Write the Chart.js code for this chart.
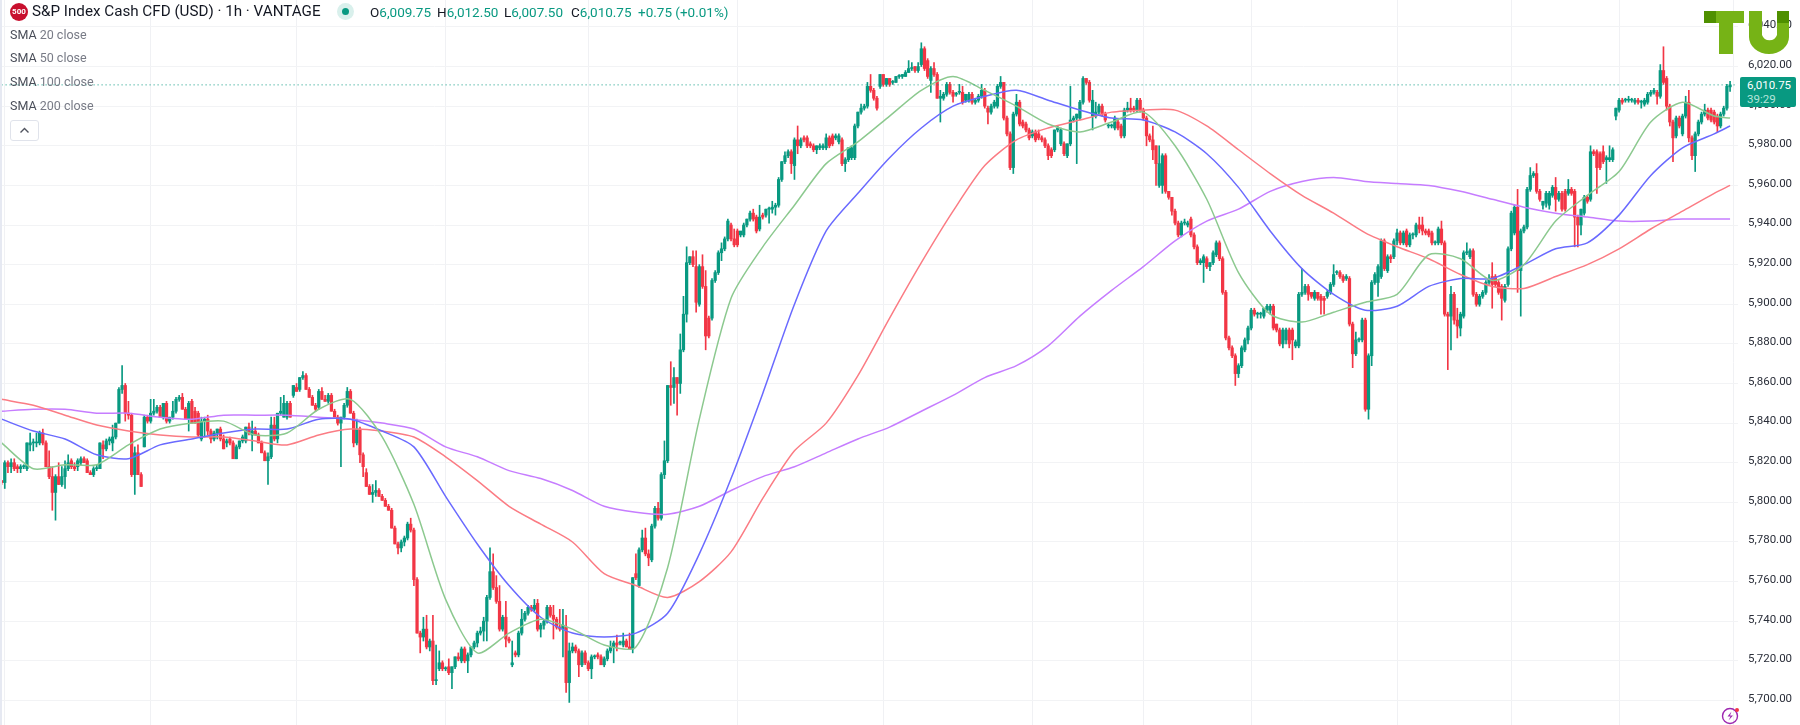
<!DOCTYPE html>
<html>
<head>
<meta charset="utf-8">
<title>S&amp;P Index Cash CFD</title>
<script src="https://cdn.jsdelivr.net/npm/chart.js"></script>
<style>
html,body{margin:0;padding:0;background:#fff;overflow:hidden}
#wrap{position:relative;width:1800px;height:725px;font-family:Roboto,sans-serif}
#c{position:absolute;left:0;top:0}
.t{position:absolute;white-space:nowrap}
#edge{position:absolute;left:0;top:0;width:2px;height:725px;background:#e6e9f2}
#head{left:32px;top:2px;font-size:15.2px;color:#131722;line-height:18px}
#icon{position:absolute;left:10px;top:3px;width:18px;height:18px;border-radius:50%;background:#c8102e;color:#fff;font-size:8px;line-height:18px;text-align:center;font-weight:700}
#halo{position:absolute;left:337px;top:3px;width:17px;height:17px;border-radius:50%;background:#d9f0ec}
#dot{position:absolute;left:342px;top:8px;width:7px;height:7px;border-radius:50%;background:#089981}
.k{font-size:13.5px;top:3px;color:#131722;line-height:18px}
.k b{font-weight:400;color:#089981}
.sma{left:10px;font-size:12.5px;color:#787b86;line-height:16px}
.sma i{font-style:normal;color:#4a4e59}
#fold{position:absolute;left:10px;top:120px;width:27px;height:19px;border:1px solid #e0e3eb;border-radius:3px;background:#fff}
#tag{position:absolute;left:1740px;top:77px;width:56px;height:30px;background:#089981;border-radius:2px;color:#fff;font-size:11.5px}
#tag span{position:absolute;left:7px;white-space:nowrap}
</style>
</head>
<body>
<div id="wrap">
<canvas id="c" width="1800" height="725"></canvas>
<div id="edge"></div>
<div id="icon">500</div>
<div class="t" id="head">S&amp;P Index Cash CFD (USD) · 1h · VANTAGE</div>
<div id="halo"></div><div id="dot"></div>
<div class="t k" style="left:370px">O<b>6,009.75</b></div>
<div class="t k" style="left:437px">H<b>6,012.50</b></div>
<div class="t k" style="left:504px">L<b>6,007.50</b></div>
<div class="t k" style="left:571px">C<b>6,010.75</b></div>
<div class="t k" style="left:638px"><b>+0.75 (+0.01%)</b></div>
<div class="t sma" style="top:27px"><i>SMA</i> 20 close</div>
<div class="t sma" style="top:50px"><i>SMA</i> 50 close</div>
<div class="t sma" style="top:74px"><i>SMA</i> 100 close</div>
<div class="t sma" style="top:98px"><i>SMA</i> 200 close</div>
<div id="fold"><svg width="27" height="19"><path d="M9.5 11.5 L13.5 7.5 L17.5 11.5" fill="none" stroke="#50535e" stroke-width="1.4"/></svg></div>
<div id="tag"><span style="top:1px">6,010.75</span><span style="top:15px;color:#b5e4da">39:29</span></div>
<svg style="position:absolute;left:1700px;top:6px" width="95" height="54">
<rect x="4" y="5" width="12" height="12" fill="#4f9000"/>
<rect x="16" y="5" width="28" height="12" fill="#76b316"/>
<rect x="19" y="5" width="14" height="43" fill="#76b316"/>
<path d="M49 5 h13 v24 a8 8 0 0 0 15 0 v-24 h12 v26 a20 17 0 0 1 -40 0 z" fill="#76b316"/>
<rect x="77" y="5" width="12" height="12" fill="#4f9000"/>
</svg>
<svg style="position:absolute;left:1720px;top:706px" width="19" height="19">
<circle cx="10" cy="10" r="7.5" fill="none" stroke="#9c27b0" stroke-width="1.4"/>
<path d="M11.5 5.5 L7.5 10.5 H10.5 L8.5 14.5 L13 9.5 H10 Z" fill="#9c27b0"/>
<circle cx="17" cy="4" r="2" fill="#f23645"/>
</svg>
</div>
<script>
var opens=[
5811,5810,5820,5818,5820,5818,5817,5818,5817,5829,
5830,5830,5830,5835,5830,5818,5813,5805,5813,5809,
5813,5817,5821,5818,5818,5820,5822,5821,5815,5814,
5817,5817,5829,5827,5831,5830,5833,5840,5857,5859,
5845,5844,5814,5825,5814,5828,5843,5841,5845,5846,
5848,5843,5850,5841,5843,5846,5852,5853,5847,5842,
5851,5846,5845,5832,5841,5842,5836,5832,5835,5837,
5832,5830,5832,5830,5822,5828,5831,5831,5838,5834,
5836,5834,5830,5825,5821,5823,5839,5832,5845,5843,
5843,5850,5854,5858,5857,5863,5864,5857,5853,5849,
5848,5856,5852,5851,5854,5846,5843,5840,5843,5849,
5856,5845,5830,5837,5824,5815,5808,5804,5805,5806,
5803,5801,5798,5796,5787,5779,5777,5780,5782,5789,
5786,5761,5734,5732,5736,5727,5730,5710,5716,5719,
5716,5717,5714,5717,5722,5720,5726,5720,5723,5727,
5729,5734,5735,5740,5752,5765,5757,5750,5736,5742,
5731,5718,5724,5723,5734,5741,5744,5747,5746,5749,
5736,5738,5740,5747,5743,5741,5737,5736,5737,5709,
5725,5727,5725,5718,5724,5719,5716,5722,5723,5722,
5718,5721,5725,5727,5729,5729,5728,5730,5727,5726,
5764,5758,5776,5782,5774,5771,5788,5797,5792,5814,
5821,5859,5858,5863,5860,5877,5895,5921,5924,5919,
5900,5919,5909,5893,5893,5912,5916,5926,5928,5933,
5940,5933,5937,5935,5935,5940,5943,5946,5944,5938,
5945,5945,5948,5948,5949,5950,5963,5972,5975,5977,
5970,5983,5980,5984,5984,5981,5980,5978,5979,5979,
5979,5984,5985,5984,5982,5983,5971,5973,5974,5974,
5990,5997,5999,6000,6010,6008,6004,6010,6016,6011,
6014,6012,6012,6015,6015,6015,6017,6019,6020,6018,
6021,6029,6023,6013,6019,6016,6004,6004,6006,6011,
6007,6006,6007,6007,6003,6003,6006,6002,6003,6005,
6008,5999,5997,6000,6000,6010,6012,5994,5986,5969,
5996,6002,5992,5991,5988,5985,5987,5986,5984,5983,
5980,5978,5978,5988,5981,5981,5975,5981,5993,5994,
5994,6002,6014,6012,5995,5995,5997,6000,5996,5990,
5990,5989,5992,5990,5985,5998,5999,5999,5998,6003,
5998,5994,5985,5983,5980,5960,5960,5975,5957,5954,
5947,5941,5935,5941,5940,5943,5935,5929,5921,5921,
5923,5919,5921,5925,5931,5923,5906,5883,5878,5874,
5865,5869,5877,5882,5888,5897,5895,5895,5894,5897,
5897,5899,5890,5887,5880,5882,5887,5887,5879,5879,
5905,5906,5909,5906,5903,5906,5904,5903,5904,5906,
5910,5916,5916,5914,5913,5913,5890,5875,5882,5882,
5892,5847,5874,5911,5911,5914,5932,5917,5924,5924,
5932,5936,5931,5937,5930,5935,5935,5940,5940,5937,
5937,5936,5931,5931,5938,5931,5895,5894,5905,5892,
5888,5894,5926,5924,5927,5905,5900,5904,5906,5911,
5914,5914,5911,5909,5902,5910,5928,5936,5949,5917,
5937,5939,5958,5965,5966,5957,5950,5951,5950,5955,
5959,5953,5956,5957,5956,5958,5957,5944,5940,5946,
5954,5953,5977,5977,5976,5977,5973,5973,5973,5995,
5998,6003,6003,6003,6003,6002,6003,6002,6001,6002,
6006,6007,6007,6005,6018,6014,6000,5992,5985,5994,
5986,5995,6002,5984,5975,5986,5992,5996,5998,5998,
5997,5995,5990,5996,5999,6009.75];
var highs=[
5811,5821,5821,5822,5822,5819,5819,5819,5830,5835,
5832,5835,5836,5837,5831,5826,5818,5814,5820,5818,
5821,5824,5822,5820,5822,5823,5823,5822,5816,5818,
5819,5830,5831,5832,5833,5839,5840,5858,5869,5860,
5851,5845,5828,5829,5815,5844,5844,5852,5852,5849,
5849,5850,5851,5843,5851,5853,5854,5855,5848,5851,
5852,5848,5846,5843,5843,5844,5837,5836,5837,5838,
5834,5832,5833,5831,5829,5831,5834,5838,5840,5841,
5838,5835,5831,5826,5825,5843,5843,5845,5853,5854,
5851,5851,5859,5860,5863,5866,5865,5858,5854,5850,
5857,5858,5854,5855,5855,5847,5844,5843,5850,5858,
5857,5846,5842,5838,5825,5817,5809,5809,5811,5807,
5804,5802,5799,5797,5788,5780,5781,5783,5790,5792,
5787,5762,5735,5742,5743,5731,5743,5728,5725,5720,
5717,5721,5717,5722,5724,5727,5727,5724,5727,5730,
5735,5737,5742,5753,5777,5774,5763,5758,5743,5750,
5732,5730,5725,5735,5746,5745,5748,5748,5751,5751,
5739,5741,5748,5748,5748,5742,5746,5746,5743,5729,
5729,5728,5726,5725,5725,5720,5723,5723,5724,5723,
5722,5726,5730,5730,5733,5730,5734,5731,5734,5762,
5774,5777,5786,5787,5776,5789,5798,5800,5815,5831,
5859,5871,5868,5863,5885,5904,5929,5924,5927,5927,
5920,5925,5917,5894,5913,5917,5927,5931,5934,5943,
5941,5938,5938,5936,5941,5943,5947,5948,5945,5950,
5946,5948,5949,5952,5951,5964,5972,5977,5978,5978,
5984,5990,5984,5985,5985,5982,5981,5980,5981,5981,
5986,5985,5986,5986,5986,5984,5974,5979,5980,5991,
5997,6001,6001,6012,6016,6009,6005,6016,6016,6014,
6014,6013,6015,6016,6016,6018,6023,6022,6020,6022,
6032,6030,6024,6020,6022,6017,6008,6007,6012,6012,
6008,6007,6011,6010,6006,6007,6007,6004,6006,6011,
6009,6000,6001,6003,6011,6015,6012,5995,5987,5997,
6006,6003,5993,5992,5989,5988,5988,5988,5985,5984,
5981,5979,5988,5990,5989,5982,5981,6010,5995,5996,
6003,6015,6014,6013,6008,6002,6001,6001,5997,5991,
5991,5995,5993,5991,5999,6002,6004,6000,6004,6004,
5999,5995,5986,5990,5980,5980,5976,5976,5955,5948,
5948,5942,5942,5943,5942,5944,5936,5930,5923,5925,
5924,5921,5927,5932,5932,5924,5907,5884,5879,5875,
5870,5879,5883,5889,5898,5898,5896,5896,5898,5900,
5900,5900,5890,5888,5888,5888,5888,5888,5882,5906,
5918,5910,5910,5906,5907,5906,5905,5904,5907,5911,
5920,5917,5917,5915,5915,5914,5891,5886,5883,5893,
5893,5875,5912,5916,5920,5933,5933,5925,5925,5933,
5938,5937,5937,5938,5936,5936,5941,5944,5944,5938,
5938,5937,5932,5939,5942,5932,5896,5909,5906,5898,
5896,5927,5931,5928,5928,5906,5905,5907,5912,5915,
5921,5915,5912,5910,5910,5929,5947,5950,5958,5938,
5940,5959,5969,5967,5971,5958,5952,5957,5957,5960,
5964,5957,5957,5958,5963,5959,5958,5945,5948,5955,
5955,5980,5978,5978,5977,5980,5975,5980,5979,5999,
6004,6004,6004,6005,6004,6004,6004,6003,6004,6007,
6008,6009,6008,6021,6030,6015,6001,5993,5995,5995,
5996,6005,6008,5985,5987,5993,5997,6001,5999,5999,
5998,5996,5997,6000,6011,6012.5];
var lows=[
5809,5807,5815,5815,5816,5815,5815,5817,5816,5826,
5826,5828,5829,5829,5818,5812,5796,5791,5809,5808,
5807,5816,5817,5816,5816,5819,5820,5815,5814,5813,
5816,5817,5822,5826,5829,5826,5832,5840,5855,5841,
5842,5813,5804,5814,5808,5828,5840,5840,5844,5845,
5843,5842,5840,5840,5842,5845,5851,5847,5842,5836,
5840,5840,5833,5831,5833,5834,5830,5831,5832,5831,
5827,5828,5829,5822,5822,5827,5830,5830,5834,5826,
5834,5830,5825,5821,5809,5822,5831,5830,5844,5843,
5842,5843,5853,5856,5856,5862,5857,5853,5849,5846,
5847,5852,5851,5850,5846,5843,5839,5818,5842,5848,
5845,5828,5829,5820,5813,5808,5804,5800,5803,5803,
5801,5798,5796,5787,5779,5774,5775,5778,5781,5785,
5758,5734,5724,5730,5726,5725,5708,5708,5715,5715,
5715,5713,5706,5716,5720,5719,5719,5714,5722,5726,
5727,5733,5730,5730,5751,5756,5749,5735,5735,5727,
5729,5717,5722,5722,5733,5740,5743,5745,5745,5735,
5732,5736,5739,5742,5731,5736,5735,5722,5704,5699,
5724,5724,5712,5717,5718,5715,5711,5721,5721,5718,
5717,5720,5724,5719,5725,5728,5727,5727,5726,5724,
5761,5757,5775,5773,5768,5770,5787,5791,5791,5812,
5820,5849,5850,5844,5855,5876,5891,5920,5919,5896,
5899,5908,5877,5883,5892,5911,5915,5922,5927,5932,
5932,5929,5929,5934,5934,5939,5942,5942,5936,5937,
5943,5944,5941,5946,5945,5949,5962,5971,5974,5966,
5963,5976,5979,5982,5979,5979,5977,5976,5978,5978,
5978,5979,5980,5983,5981,5970,5967,5972,5973,5973,
5989,5996,5998,5999,6007,6003,5998,6009,6010,6010,
6010,6011,6012,6014,6014,6015,6017,6018,6017,6017,
6020,6018,6014,6007,6015,6004,5992,6003,6005,6006,
6002,6005,6006,6001,6002,6002,6001,6001,6002,6004,
5999,5991,5996,5999,5999,6009,5993,5985,5968,5966,
5995,5990,5989,5987,5983,5984,5982,5983,5982,5979,
5973,5974,5977,5987,5980,5975,5974,5980,5992,5971,
5993,6001,6011,6002,5988,5994,5996,5995,5992,5989,
5989,5988,5988,5984,5984,5997,5997,5997,5997,5997,
5993,5980,5982,5973,5960,5959,5956,5956,5953,5945,
5940,5934,5934,5940,5939,5934,5928,5920,5920,5911,
5918,5917,5920,5924,5922,5905,5882,5877,5873,5859,
5863,5868,5876,5880,5887,5894,5893,5893,5893,5896,
5895,5887,5886,5879,5878,5880,5878,5872,5878,5878,
5904,5905,5902,5903,5902,5902,5895,5895,5903,5905,
5909,5915,5913,5911,5912,5889,5868,5874,5881,5881,
5846,5842,5869,5910,5904,5913,5917,5916,5921,5923,
5930,5930,5930,5929,5929,5933,5934,5936,5935,5935,
5934,5930,5930,5930,5930,5894,5867,5877,5890,5883,
5884,5893,5925,5923,5904,5899,5899,5903,5905,5910,
5898,5909,5905,5892,5901,5909,5927,5935,5906,5894,
5936,5938,5957,5964,5956,5952,5948,5949,5948,5954,
5947,5952,5947,5947,5955,5955,5929,5929,5935,5945,
5951,5952,5975,5956,5968,5971,5961,5972,5972,5993,
5997,6001,6002,6002,6002,6001,6001,5999,6000,6001,
6005,6006,6001,6004,6011,5998,5990,5972,5984,5989,
5985,5994,5982,5973,5967,5985,5991,5995,5993,5992,
5991,5987,5989,5995,5998,6007.5];
var closes=[
5810,5820,5818,5820,5817,5817,5818,5818,5830,5830,
5830,5830,5835,5830,5818,5813,5805,5813,5809,5813,
5817,5820,5818,5817,5821,5822,5820,5815,5814,5817,
5817,5830,5827,5831,5832,5833,5840,5857,5859,5845,
5844,5814,5825,5814,5808,5843,5841,5845,5846,5848,
5843,5850,5841,5843,5846,5852,5853,5847,5842,5850,
5840,5840,5834,5841,5842,5836,5832,5835,5837,5832,
5827,5831,5830,5822,5828,5831,5833,5838,5835,5836,
5834,5830,5825,5821,5823,5839,5832,5845,5846,5850,
5850,5843,5859,5856,5863,5864,5857,5853,5849,5847,
5856,5852,5851,5854,5846,5843,5840,5843,5849,5856,
5845,5830,5837,5824,5818,5808,5804,5805,5806,5803,
5801,5798,5796,5787,5779,5777,5780,5782,5789,5786,
5761,5734,5732,5736,5727,5730,5710,5710,5719,5716,
5716,5714,5717,5722,5721,5726,5720,5723,5727,5729,
5734,5735,5740,5752,5765,5757,5750,5736,5742,5731,
5730,5719,5723,5734,5741,5744,5747,5746,5748,5736,
5738,5740,5747,5743,5741,5737,5736,5738,5709,5725,
5727,5725,5718,5724,5719,5716,5722,5722,5722,5718,
5721,5725,5727,5729,5728,5729,5730,5727,5726,5762,
5762,5776,5782,5774,5772,5788,5797,5792,5814,5821,
5859,5858,5863,5860,5877,5895,5921,5924,5920,5901,
5919,5909,5884,5884,5912,5916,5926,5928,5933,5942,
5933,5930,5930,5937,5940,5943,5946,5943,5937,5944,
5944,5948,5948,5949,5950,5963,5972,5975,5977,5971,
5983,5980,5983,5983,5980,5980,5978,5980,5980,5980,
5984,5980,5981,5985,5985,5971,5973,5979,5979,5990,
5997,5999,6000,6010,6008,6004,5999,6016,6011,6014,
6011,6012,6015,6015,6016,6017,6019,6019,6018,6020,
6029,6019,6015,6019,6016,6004,6005,6006,6011,6007,
6005,6006,6007,6002,6006,6006,6002,6003,6005,6008,
6000,5997,6000,6002,6010,6012,5994,5986,5969,5996,
6002,5991,5990,5988,5984,5987,5983,5984,5983,5980,
5975,5975,5988,5989,5988,5976,5981,5993,5994,5996,
6002,6014,6012,6003,6003,5997,6000,5996,5993,5990,
5990,5994,5989,5985,5998,5999,5998,5998,6003,5998,
5994,5985,5983,5978,5971,5971,5975,5957,5954,5947,
5941,5935,5941,5941,5941,5935,5929,5921,5922,5924,
5919,5921,5926,5931,5923,5906,5883,5878,5874,5865,
5869,5878,5882,5888,5897,5895,5895,5895,5898,5899,
5899,5888,5887,5880,5887,5887,5880,5882,5881,5905,
5906,5909,5905,5904,5906,5903,5902,5902,5906,5910,
5915,5916,5914,5912,5914,5890,5875,5882,5882,5892,
5847,5874,5911,5915,5919,5932,5918,5924,5923,5932,
5936,5931,5936,5930,5935,5935,5940,5938,5937,5936,
5935,5931,5931,5938,5931,5895,5894,5905,5892,5889,
5895,5926,5926,5927,5905,5900,5904,5906,5911,5913,
5910,5910,5906,5903,5909,5928,5946,5949,5917,5937,
5939,5958,5965,5966,5957,5953,5952,5956,5956,5959,
5953,5956,5948,5948,5958,5956,5944,5940,5948,5954,
5952,5977,5976,5969,5969,5972,5974,5974,5978,5999,
6003,6002,6003,6003,6003,6003,6002,6002,6003,6006,
6007,6008,6005,6018,6012,6000,5992,5984,5994,5990,
5995,6002,5984,5975,5986,5992,5996,5998,5994,5993,
5992,5990,5996,5999,6010,6010.75];

// moving averages
var smaBars=[0,10,20,30,40,50,60,70,80,90,100,110,120,130,140,150,160,170,180,190,200,210,220,230,240,250,260,270,280,290,300,310,320,330,340,350,360,370,380,390,400,410,420,430,440,450,460,470,480,490,500,510,520,530,540,545];
var sma20=[5830,5817,5819,5819,5829,5837,5840,5841,5834,5835,5847,5852,5833,5799,5751,5724,5734,5741,5736,5728,5727,5767,5842,5903,5929,5950,5971,5982,5995,6008,6015,6008,6000,5991,5987,5992,5997,5980,5953,5916,5895,5891,5896,5901,5905,5925,5923,5912,5920,5942,5955,5967,5992,6002,5995,5994];
var sma50=[5842,5836,5832,5824,5822,5829,5832,5835,5837,5837,5842,5842,5836,5828,5803,5779,5758,5742,5734,5732,5734,5744,5774,5812,5855,5900,5937,5956,5974,5989,6000,6005,6008,6003,5998,5994,5993,5987,5976,5959,5937,5918,5905,5897,5899,5909,5913,5913,5920,5928,5931,5945,5965,5979,5986,5990];
var sma100=[5852,5849,5844,5839,5836,5834,5833,5833,5831,5829,5834,5837,5836,5833,5823,5811,5798,5789,5780,5764,5758,5752,5760,5775,5802,5826,5840,5864,5893,5921,5947,5970,5983,5989,5993,5997,5998,5998,5990,5978,5966,5955,5946,5936,5929,5923,5915,5909,5908,5914,5920,5928,5938,5947,5956,5960];
var sma200=[5846,5847,5847,5845,5845,5843,5842,5844,5844,5844,5843,5842,5840,5837,5828,5823,5816,5812,5806,5798,5795,5794,5798,5806,5813,5818,5825,5832,5838,5846,5854,5863,5869,5879,5894,5907,5919,5932,5942,5948,5957,5962,5964,5962,5961,5960,5957,5953,5949,5946,5944,5942,5942,5943,5943,5943];

var lastPrice=6010.75;
var priceTicks=[5700,5720,5740,5760,5780,5800,5820,5840,5860,5880,5900,5920,5940,5960,5980,6000,6020,6040];
var gridBars=[1,47,93,140,185,232,278,325,360,394,440,476,510,546];
var barCount=548;

var upColor='#089981', downColor='#F23645';
var labels=[];
for(var i=0;i<barCount;i++){ labels.push(i); }

function candleColor(ctx){
	return closes[ctx.dataIndex]>=opens[ctx.dataIndex] ? upColor : downColor;
}
function smaData(values){
	var out=labels.map(function(){return null;});
	smaBars.forEach(function(b,k){ out[b]=values[k]; });
	return out;
}
function smaSet(values,color){
	return {type:'line',data:smaData(values),borderColor:color,borderWidth:1.5,pointRadius:0,spanGaps:true,tension:0.25,order:1};
}

new Chart(document.getElementById('c'),{
	type:'bar',
	data:{
		labels:labels,
		datasets:[
			{data:lows.map(function(l,k){return [l,highs[k]];}),backgroundColor:candleColor,barThickness:1,grouped:false,order:3},
			{data:opens.map(function(o,k){return [o,closes[k]];}),backgroundColor:candleColor,barThickness:2.6,minBarLength:1,grouped:false,order:2},
			smaSet(sma20,'#8cc98f'),
			smaSet(sma50,'#6a6aff'),
			smaSet(sma100,'#fb7c84'),
			smaSet(sma200,'#c67dff'),
			{type:'line',data:labels.map(function(){return lastPrice;}),borderColor:upColor,borderWidth:1,borderDash:[1,3],pointRadius:0,order:0}
		]
	},
	options:{
		responsive:false,
		animation:false,
		devicePixelRatio:1,
		events:[],
		layout:{padding:0,autoPadding:false},
		plugins:{legend:{display:false},tooltip:{enabled:false}},
		scales:{
			x:{
				offset:true,
				afterFit:function(s){s.paddingLeft=0;s.paddingRight=0;},
				grid:{offset:false,drawTicks:false,color:function(ctx){return gridBars.indexOf(ctx.index)>=0?'#f0f1f4':'rgba(0,0,0,0)';}},
				border:{display:false},
				ticks:{display:false,autoSkip:false}
			},
			y:{
				position:'right',
				bounds:'data',
				min:5687.6,
				max:6053.6,
				afterBuildTicks:function(s){s.ticks=priceTicks.map(function(v){return {value:v};});},
				// the tick labels would otherwise pad the plot area at top and bottom
				afterFit:function(s){s.width=62;s.paddingTop=0;s.paddingBottom=0;},
				grid:{color:'#f2f3f5',drawTicks:false},
				border:{display:false},
				ticks:{
					autoSkip:false,
					padding:10,
					labelOffset:-1.5,
					color:'#2a2e39',
					font:{family:'Roboto',size:11.5},
					callback:function(v){return v.toLocaleString('en-US',{minimumFractionDigits:2,maximumFractionDigits:2});}
				}
			}
		}
	}
});
</script>
</body>
</html>
